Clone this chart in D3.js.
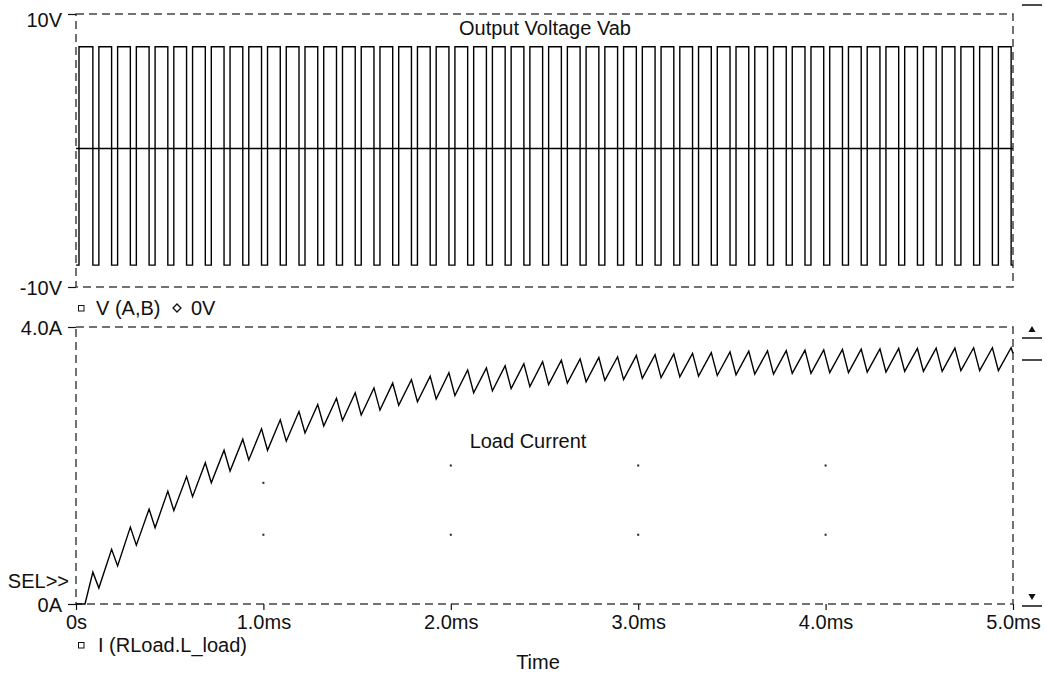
<!DOCTYPE html>
<html>
<head>
<meta charset="utf-8">
<script src="https://cdn.jsdelivr.net/npm/d3@7"></script>
<style>
	body { margin: 0; background: #fff; }
	svg text { font-family: "Liberation Sans", Arial, sans-serif; font-size: 20px; fill: #111; }
</style>
</head>
<body>
<svg id="scope" width="1046" height="673" viewBox="0 0 1046 673"></svg>
<script>
// time axis (ms)
const timeTicks = [0, 1, 2, 3, 4, 5];
const timeTickLabels = ["0s", "1.0ms", "2.0ms", "3.0ms", "4.0ms", "5.0ms"];

// switching instants of V(A,B), ms
const riseT = [0.016, 0.122, 0.222, 0.322, 0.422, 0.522, 0.622, 0.722, 0.822, 0.922,
	1.022, 1.122, 1.222, 1.322, 1.422, 1.522, 1.622, 1.722, 1.822, 1.922,
	2.022, 2.122, 2.222, 2.322, 2.422, 2.522, 2.622, 2.722, 2.822, 2.922,
	3.022, 3.122, 3.222, 3.322, 3.422, 3.522, 3.622, 3.722, 3.822, 3.922,
	4.022, 4.122, 4.222, 4.322, 4.422, 4.522, 4.622, 4.722, 4.822, 4.922];
const fallT = [0.09, 0.19, 0.29, 0.39, 0.49, 0.59, 0.69, 0.79, 0.89, 0.99,
	1.09, 1.19, 1.29, 1.39, 1.49, 1.59, 1.69, 1.79, 1.89, 1.99,
	2.09, 2.19, 2.29, 2.39, 2.49, 2.59, 2.69, 2.79, 2.89, 2.99,
	3.09, 3.19, 3.29, 3.39, 3.49, 3.59, 3.69, 3.79, 3.89, 3.99,
	4.09, 4.19, 4.29, 4.39, 4.49, 4.59, 4.69, 4.79, 4.89, 4.99];
const vHigh = 7.6;
const vLow = -8.4;
const vRef = 0.15;

// load current at the peaks (at each fall) and troughs (at each rise after the first), A
const iStartFlat = 0.048;
const iPeak = [0.46, 0.79, 1.11, 1.37, 1.63, 1.84, 2.04, 2.22, 2.38, 2.53,
	2.66, 2.78, 2.88, 2.97, 3.05, 3.12, 3.19, 3.24, 3.29, 3.34,
	3.38, 3.41, 3.44, 3.47, 3.50, 3.52, 3.54, 3.56, 3.57, 3.59,
	3.60, 3.61, 3.62, 3.63, 3.64, 3.65, 3.655, 3.66, 3.665, 3.67,
	3.675, 3.68, 3.685, 3.69, 3.69, 3.695, 3.695, 3.70, 3.70, 3.70];
const iTrough = [0.23, 0.55, 0.85, 1.10, 1.35, 1.55, 1.75, 1.92, 2.08, 2.22,
	2.35, 2.47, 2.57, 2.65, 2.73, 2.80, 2.87, 2.92, 2.96, 3.01,
	3.05, 3.08, 3.11, 3.14, 3.17, 3.19, 3.21, 3.23, 3.24, 3.26,
	3.27, 3.28, 3.29, 3.30, 3.31, 3.32, 3.32, 3.33, 3.33, 3.34,
	3.34, 3.35, 3.35, 3.36, 3.36, 3.36, 3.37, 3.37, 3.37];
const iEnd = 3.62;

// grid dots in the lower plot [ms, A]
const gridDots = [[1, 1.75], [1, 1.0], [2, 2.0], [2, 1.0], [3, 2.0], [3, 1.0], [4, 2.0], [4, 1.0]];

const svg = d3.select("#scope");

const x = d3.scaleLinear().domain([0, 5]).range([76, 1013]);
const yV = d3.scaleLinear().domain([-10, 10]).range([287, 14]);
const yI = d3.scaleLinear().domain([0, 4]).range([604, 327]);

const dash = "8,5";
const frameColor = "#444";

function frame(yTop, yBot) {
	svg.append("rect")
		.attr("x", x(0)).attr("y", yTop)
		.attr("width", x(5) - x(0)).attr("height", yBot - yTop)
		.attr("fill", "none")
		.attr("stroke", frameColor)
		.attr("stroke-width", 1.5)
		.attr("stroke-dasharray", dash);
}

// ---- upper plot: output voltage
frame(yV(10), yV(-10));

const vPts = [[0, vLow]];
for (let k = 0; k < riseT.length; k++) {
	vPts.push([riseT[k], vLow], [riseT[k], vHigh], [fallT[k], vHigh], [fallT[k], vLow]);
}
vPts.push([5, vLow]);

svg.append("path")
	.datum(vPts)
	.attr("fill", "none")
	.attr("stroke", "#000")
	.attr("stroke-width", 1.4)
	.attr("d", d3.line().x(d => x(d[0])).y(d => yV(d[1])));

svg.append("line")
	.attr("x1", x(0)).attr("x2", x(5))
	.attr("y1", yV(vRef)).attr("y2", yV(vRef))
	.attr("stroke", "#000").attr("stroke-width", 1.4);

const yAxisV = d3.axisLeft(yV).tickValues([-10, 10]).tickSize(8).tickPadding(6)
	.tickFormat(d => d + "V");
const gV = svg.append("g").attr("transform", `translate(${x(0)},0)`).call(yAxisV);
gV.select(".domain").remove();

svg.append("text").attr("x", 545).attr("y", 35).attr("text-anchor", "middle")
	.text("Output Voltage Vab");

// legend of upper plot
svg.append("rect").attr("x", 78.5).attr("y", 305.5).attr("width", 5.5).attr("height", 5.5)
	.attr("fill", "none").attr("stroke", "#111").attr("stroke-width", 1);
svg.append("text").attr("x", 96).attr("y", 315).text("V (A,B)");
svg.append("path")
	.attr("d", d3.symbol(d3.symbolDiamond2, 40)())
	.attr("transform", `translate(177,308)`)
	.attr("fill", "none").attr("stroke", "#111").attr("stroke-width", 1.3);
svg.append("text").attr("x", 191).attr("y", 315).text("0V");

// ---- lower plot: load current
frame(yI(4), yI(0));

const iPts = [[0, 0], [iStartFlat, 0]];
for (let k = 0; k < iPeak.length; k++) {
	iPts.push([fallT[k], iPeak[k]]);
	if (k < iTrough.length) iPts.push([riseT[k + 1], iTrough[k]]);
}
iPts.push([5, iEnd]);

svg.append("path")
	.datum(iPts)
	.attr("fill", "none")
	.attr("stroke", "#000")
	.attr("stroke-width", 1.4)
	.attr("d", d3.line().x(d => x(d[0])).y(d => yI(d[1])));

svg.selectAll(".gdot").data(gridDots).enter().append("rect")
	.attr("class", "gdot")
	.attr("x", d => x(d[0]) - 1).attr("y", d => yI(d[1]) - 1)
	.attr("width", 2).attr("height", 2).attr("fill", "#222");

const yAxisI = d3.axisLeft(yI).tickValues([0, 4]).tickSize(8).tickPadding(6)
	.tickFormat(d => d === 0 ? "0A" : d3.format(".1f")(d) + "A");
const gI = svg.append("g").attr("transform", `translate(${x(0)},0)`).call(yAxisI);
gI.select(".domain").remove();

const xAxis = d3.axisBottom(x).tickValues(timeTicks).tickSize(6).tickPadding(4)
	.tickFormat((d, i) => timeTickLabels[i]);
const gX = svg.append("g").attr("transform", `translate(0,${yI(0)})`).call(xAxis);
gX.select(".domain").remove();

[gV, gI, gX].forEach(g => {
	g.selectAll("text").style("font-size", "20px").attr("fill", "#111")
		.style("font-family", "'Liberation Sans', Arial, sans-serif");
	g.selectAll("line").attr("stroke", "#111").attr("stroke-width", 1.2);
});
gV.selectAll("text").attr("dy", (d) => d === 10 ? "0.6em" : "0.35em");
gI.selectAll("text").attr("dy", "0.35em");
gX.selectAll("text").attr("dy", "0.75em");

svg.append("text").attr("x", 528).attr("y", 448).attr("text-anchor", "middle")
	.text("Load Current");

svg.append("text").attr("x", 69).attr("y", 588).attr("text-anchor", "end").text("SEL>>");

svg.append("rect").attr("x", 78.5).attr("y", 642.5).attr("width", 5.5).attr("height", 5.5)
	.attr("fill", "none").attr("stroke", "#111").attr("stroke-width", 1);
svg.append("text").attr("x", 98).attr("y", 652).text("I (RLoad.L_load)");

svg.append("text").attr("x", 538).attr("y", 669).attr("text-anchor", "middle").text("Time");

// ---- probe window markers on the right
const marks = svg.append("g").attr("stroke", "#111").attr("stroke-width", 1.5);
marks.append("line").attr("x1", 1022).attr("x2", 1042).attr("y1", 5).attr("y2", 5);
marks.append("line").attr("x1", 1022).attr("x2", 1042).attr("y1", 338).attr("y2", 338);
marks.append("line").attr("x1", 1022).attr("x2", 1042).attr("y1", 360).attr("y2", 360);
marks.append("line").attr("x1", 1022).attr("x2", 1042).attr("y1", 606).attr("y2", 606);
svg.append("path").attr("d", d3.symbol(d3.symbolTriangle, 22)())
	.attr("transform", "translate(1032,330)").attr("fill", "#111");
svg.append("path").attr("d", d3.symbol(d3.symbolTriangle, 22)())
	.attr("transform", "translate(1032,596) rotate(180)").attr("fill", "#111");
</script>
</body>
</html>
